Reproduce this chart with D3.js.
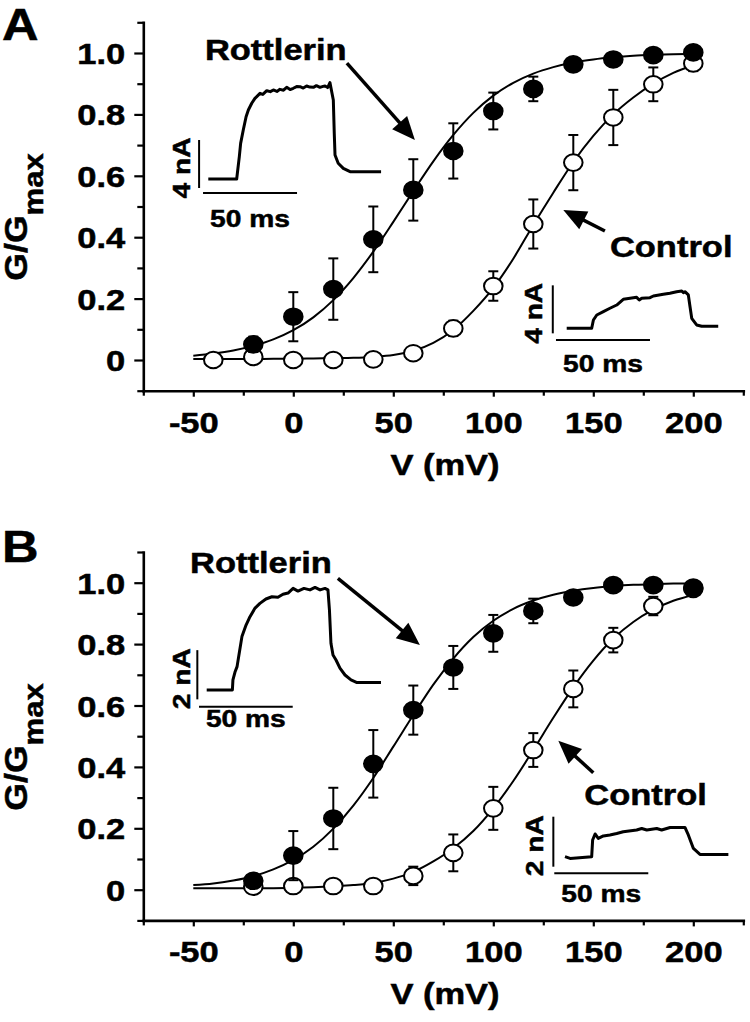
<!DOCTYPE html>
<html lang="en">
<head>
<meta charset="UTF-8">
<style>
    body { margin: 0; background: #fff; }
    svg text { font-family: "Liberation Sans", Arial, sans-serif; font-weight: bold; fill: #000; stroke: #000; stroke-width: 0.5px; }
</style>
</head>
<body>
<script src="https://d3js.org/d3.v7.min.js"></script>
<script>
// ---- data ----
var xMajor = [-50, 0, 50, 100, 150, 200]
var xTickLabels = ['-50', '0', '50', '100', '150', '200']
var xMinor = [-75, -25, 25, 75, 125, 175, 225]
var yMajor = [0, 0.2, 0.4, 0.6, 0.8, 1.0]
var yTickLabels = ['0', '0.2', '0.4', '0.6', '0.8', '1.0']
var yMinor = [-0.1, 0.1, 0.3, 0.5, 0.7, 0.9, 1.1]

// panel A
var aRottV = [-20, 0, 20, 40, 60, 80, 100, 120, 140, 160, 180, 200]
var aRottG = [0.051, 0.141, 0.231, 0.393, 0.554, 0.681, 0.811, 0.883, 0.963, 0.979, 0.993, 1.002]
var aRottErr = [0.025, 0.08, 0.1, 0.107, 0.1, 0.09, 0.06, 0.04, 0.01, 0.01, 0.01, 0.01]
var aCtrlV = [-40, -20, 0, 20, 40, 60, 80, 100, 120, 140, 160, 180, 200]
var aCtrlG = [0.0, 0.01, 0.0, 0.0, 0.002, 0.022, 0.103, 0.241, 0.443, 0.643, 0.79, 0.898, 0.966]
var aCtrlErr = [0.005, 0.01, 0.005, 0.005, 0.005, 0.01, 0.025, 0.048, 0.08, 0.09, 0.09, 0.055, 0.025]

// panel B
var bRottV = [-20, 0, 20, 40, 60, 80, 100, 120, 140, 160, 180, 200]
var bRottG = [0.029, 0.111, 0.232, 0.41, 0.585, 0.724, 0.835, 0.908, 0.952, 0.992, 0.992, 0.984]
var bRottErr = [0.02, 0.08, 0.1, 0.11, 0.08, 0.07, 0.06, 0.04, 0.01, 0.01, 0.01, 0.01]
var bCtrlV = [-20, 0, 20, 40, 60, 80, 100, 120, 140, 160, 180, 200]
var bCtrlG = [0.01, 0.012, 0.012, 0.012, 0.045, 0.12, 0.265, 0.455, 0.654, 0.813, 0.924, 0.98]
var bCtrlErr = [0.01, 0.005, 0.005, 0.01, 0.03, 0.06, 0.07, 0.055, 0.06, 0.04, 0.03, 0.01]

// fitted curves, every 10 mV
var fitV = [-50, -40, -30, -20, -10, 0, 10, 20, 30, 40, 50, 60, 70, 80, 90, 100, 110, 120, 130, 140, 150, 160, 170, 180, 190, 200]
var aRottFit = [0.014, 0.021, 0.031, 0.046, 0.067, 0.097, 0.139, 0.195, 0.267, 0.353, 0.45, 0.55, 0.647, 0.733, 0.805, 0.861, 0.903, 0.933, 0.954, 0.969, 0.979, 0.986, 0.991, 0.994, 0.996, 0.997]
var aCtrlFit = [0.003, 0.003, 0.003, 0.003, 0.004, 0.004, 0.005, 0.006, 0.007, 0.01, 0.016, 0.03, 0.056, 0.098, 0.16, 0.235, 0.33, 0.44, 0.545, 0.645, 0.73, 0.8, 0.855, 0.9, 0.935, 0.96]
var bRottFit = [0.015, 0.020, 0.030, 0.044, 0.066, 0.097, 0.140, 0.199, 0.274, 0.364, 0.466, 0.569, 0.668, 0.753, 0.823, 0.876, 0.915, 0.942, 0.961, 0.974, 0.983, 0.989, 0.993, 0.995, 0.997, 0.998]
var bCtrlFit = [0.005, 0.005, 0.005, 0.005, 0.005, 0.006, 0.008, 0.011, 0.015, 0.022, 0.036, 0.058, 0.092, 0.135, 0.191, 0.265, 0.354, 0.455, 0.56, 0.659, 0.746, 0.818, 0.872, 0.912, 0.941, 0.96]

// current traces in the insets (ms, nA from baseline)
var aRottTraceT = [0, 15.1, 16.5, 17.2, 18.6, 20.1, 21.3, 23.1, 24.8, 27.5, 29.0, 31.1, 33.0, 34.6, 36.5, 38.1, 40.0, 41.7, 43.5, 45.2, 47.0, 48.8, 50.5, 52.3, 54.0, 55.9, 57.5, 59.4, 61.0, 62.1, 63.5, 64.7, 66.5, 67.0, 67.4, 69.1, 71.8, 75.4, 91.9]
var aRottTraceI = [0, 0, 1.86, 2.97, 4.08, 5.19, 5.75, 6.31, 6.72, 7.14, 7.05, 7.36, 7.28, 7.42, 7.30, 7.47, 7.40, 7.64, 7.45, 7.56, 7.70, 7.69, 7.58, 7.75, 7.66, 7.64, 7.78, 7.64, 7.72, 7.75, 7.62, 8.03, 6.58, 3.81, 2.0, 1.31, 0.89, 0.61, 0.61]
var aCtrlTraceT = [0, 13.3, 14.2, 16.0, 19.5, 23.0, 26.6, 30.1, 33.7, 37.2, 38.6, 39.9, 44.3, 46.1, 51.4, 54.9, 58.5, 61.2, 62.1, 62.9, 64.7, 65.6, 66.5, 69.1, 71.8, 80.6]
var aCtrlTraceI = [0, 0, 0.69, 1.11, 1.39, 1.67, 1.94, 2.42, 2.5, 2.58, 2.36, 2.5, 2.55, 2.69, 2.83, 2.92, 3.05, 3.11, 2.97, 3.05, 2.78, 1.8, 0.83, 0.28, 0.17, 0.17]
var bRottTraceT = [0, 13.7, 14.0, 15.1, 16.2, 17.2, 18.8, 21.0, 23.1, 25.8, 28.4, 31.6, 34.8, 38.0, 40.7, 43.4, 46.1, 48.7, 51.9, 55.1, 57.8, 60.5, 63.1, 64.7, 65.5, 66.3, 67.4, 69.0, 71.1, 73.8, 77.0, 80.2, 93.0]
var bRottTraceI = [0, 0, 0.41, 0.73, 0.95, 1.42, 2.17, 2.64, 2.98, 3.33, 3.52, 3.70, 3.79, 3.77, 3.89, 3.94, 4.13, 4.02, 4.13, 4.07, 4.17, 4.07, 4.13, 4.07, 3.25, 1.90, 1.42, 1.22, 0.89, 0.61, 0.41, 0.30, 0.30]
var bCtrlTraceT = [0, 2.7, 14.2, 14.7, 16.0, 17.7, 20.4, 23.9, 27.5, 31.0, 38.1, 40.8, 43.5, 48.8, 51.4, 55.9, 63.8, 65.6, 68.3, 71.8, 86.9]
var bCtrlTraceI = [0, -0.07, 0, 0.67, 0.91, 0.73, 0.83, 0.87, 0.93, 1.0, 1.07, 1.13, 1.07, 1.13, 1.07, 1.17, 1.17, 0.87, 0.33, 0.09, 0.09]

var timeBarMs = 50
var aCurrentBarNa = 4
var bCurrentBarNa = 2

// ---- drawing ----
var svgWidth = 750, svgHeight = 1022
var sx = 1.15   // the figure's lettering is a bit wide

var svg = d3.select('body').append('svg')
    .attr('width', svgWidth)
    .attr('height', svgHeight)

var zip = (a, b) => a.map((v, i) => [v, b[i]])

function arrow(g, x1, y1, x2, y2) {
    var dx = x2 - x1, dy = y2 - y1, len = Math.hypot(dx, dy)
    var ux = dx / len, uy = dy / len
    var L = 23, W = 10
    var bx = x2 - L * ux, by = y2 - L * uy
    g.append('line')
        .attr('x1', x1).attr('y1', y1)
        .attr('x2', x2 - L * 0.7 * ux).attr('y2', y2 - L * 0.7 * uy)
        .attr('stroke', '#000').attr('stroke-width', 3.5)
    g.append('polygon')
        .attr('points', [[x2, y2], [bx - W * uy, by + W * ux], [bx + W * uy, by - W * ux]].join(' '))
        .attr('fill', '#000')
}

function label(g, txt, x, y, size, anchor) {
    g.append('text')
        .attr('transform', 'translate(' + x + ',' + y + ') scale(' + sx + ',1)')
        .attr('text-anchor', anchor || 'start')
        .style('font-size', size + 'px')
        .text(txt)
}

function drawInset(g, ins) {
    var tx = d3.scaleLinear().domain([0, timeBarMs]).range([ins.x0, ins.x0 + ins.msPx])
    var iy = d3.scaleLinear().domain([0, ins.na]).range([ins.y0, ins.y0 - ins.naPx])
    g.append('path')
        .datum(zip(ins.t, ins.i))
        .attr('d', d3.line().x(d => tx(d[0])).y(d => iy(d[1])))
        .attr('fill', 'none').attr('stroke', '#000').attr('stroke-width', 3)
        .attr('stroke-linejoin', 'round')
    // scale bars
    var vx = tx(ins.vBarT)
    g.append('line')
        .attr('x1', vx).attr('x2', vx)
        .attr('y1', iy(ins.vBarI)).attr('y2', iy(ins.vBarI + ins.na))
        .attr('stroke', '#000').attr('stroke-width', 2)
    var hy = iy(ins.hBarI)
    g.append('line')
        .attr('x1', tx(ins.hBarT)).attr('x2', tx(ins.hBarT + timeBarMs))
        .attr('y1', hy).attr('y2', hy)
        .attr('stroke', '#000').attr('stroke-width', 2)
    var vmid = (iy(ins.vBarI) + iy(ins.vBarI + ins.na)) / 2 + 4
    g.append('text')
        .attr('transform', 'translate(' + (vx + ins.vLabDx) + ',' + vmid + ') rotate(-90) scale(' + sx + ',1)')
        .attr('text-anchor', 'middle')
        .style('font-size', '24.5px')
        .text(ins.na + ' nA')
    label(g, timeBarMs + ' ms', (tx(ins.hBarT) + tx(ins.hBarT + timeBarMs)) / 2, hy + ins.hLabDy, 24.5, 'middle')
}

function drawPanel(p) {
    var g = svg.append('g')
    var x = d3.scaleLinear().domain([-75, 225]).range([143.3, 743.3])
    var y = d3.scaleLinear().domain([-0.1, 1.1]).range(p.yRange)
    var axisY = y(-0.1)

    // x axis
    var gx = g.append('g').attr('transform', 'translate(0,' + axisY + ')')
        .call(d3.axisBottom(x).tickValues(xMajor).tickSize(6).tickSizeOuter(0)
            .tickFormat((d, i) => xTickLabels[i]))
    g.append('g').attr('transform', 'translate(0,' + axisY + ')')
        .call(d3.axisBottom(x).tickValues(xMinor).tickSize(5).tickSizeOuter(0).tickFormat(''))
        .select('.domain').remove()
    gx.selectAll('text')
        .attr('y', 0).attr('dy', null)
        .attr('transform', 'translate(0,42) scale(' + sx + ',1)')
    // y axis
    var gy = g.append('g').attr('transform', 'translate(143.3,0)')
        .call(d3.axisLeft(y).tickValues(yMajor).tickSize(9).tickSizeOuter(0)
            .tickFormat((d, i) => yTickLabels[i]))
    g.append('g').attr('transform', 'translate(143.3,0)')
        .call(d3.axisLeft(y).tickValues(yMinor).tickSize(6).tickSizeOuter(0).tickFormat(''))
        .select('.domain').remove()
    gy.selectAll('text')
        .attr('x', 0).attr('dy', null)
        .attr('transform', 'translate(-18,10.5) scale(' + sx + ',1)')
    g.selectAll('.domain').attr('stroke-width', 2.6).attr('stroke-linecap', 'square')
    g.selectAll('.tick line').attr('stroke-width', 2.2)
    g.selectAll('.tick text').style('font-size', '30px')
        .attr('font-family', null)
    g.selectAll('g').attr('font-family', null).attr('font-size', null)

    // axis titles
    label(g, 'V (mV)', 445, axisY + 84, 30, 'middle')
    var yt = g.append('text')
        .attr('transform', 'translate(27,' + p.yTitleY + ') rotate(-90) scale(' + sx + ',1)')
        .attr('text-anchor', 'middle')
        .style('font-size', '31px')
    yt.append('tspan').text('G/G')
    yt.append('tspan').attr('dy', 16).style('font-size', '27px').text('max')

    // panel letter
    label(g, p.letter, 2, p.letterY, 44)

    // fitted curves
    var line = d3.line().x(d => x(d[0])).y(d => y(d[1])).curve(d3.curveMonotoneX)
    ;[p.rottFit, p.ctrlFit].forEach(f => {
        g.append('path').datum(zip(fitV, f))
            .attr('d', line)
            .attr('fill', 'none').attr('stroke', '#000').attr('stroke-width', 2)
    })

    // error bars + markers: control (open) first, rottlerin (filled) on top
    var series = [
        { v: p.ctrlV, gv: p.ctrlG, e: p.ctrlErr, fill: '#fff' },
        { v: p.rottV, gv: p.rottG, e: p.rottErr, fill: '#000' }
    ]
    series.forEach(s => {
        var pts = s.v.map((v, i) => ({ v: v, g: s.gv[i], e: s.e[i] }))
        var eb = g.append('g').attr('stroke', '#000').attr('stroke-width', 2)
        pts.forEach(d => {
            var cx = x(d.v), y1 = y(d.g - d.e), y2 = y(d.g + d.e)
            eb.append('line').attr('x1', cx).attr('x2', cx).attr('y1', y1).attr('y2', y2)
            eb.append('line').attr('x1', cx - 5).attr('x2', cx + 5).attr('y1', y1).attr('y2', y1)
            eb.append('line').attr('x1', cx - 5).attr('x2', cx + 5).attr('y1', y2).attr('y2', y2)
        })
        g.append('g').selectAll('ellipse').data(pts).enter().append('ellipse')
            .attr('cx', d => x(d.v)).attr('cy', d => y(d.g))
            .attr('rx', 9.3).attr('ry', 8.3)
            .attr('fill', s.fill).attr('stroke', '#000').attr('stroke-width', 2)
    })

    // annotations
    label(g, 'Rottlerin', x(p.rottLab[0]), y(p.rottLab[1]), 30)
    label(g, 'Control', x(p.ctrlLab[0]), y(p.ctrlLab[1]), 30)
    arrow(g, x(p.rottArrow[0]), y(p.rottArrow[1]), x(p.rottArrow[2]), y(p.rottArrow[3]))
    arrow(g, x(p.ctrlArrow[0]), y(p.ctrlArrow[1]), x(p.ctrlArrow[2]), y(p.ctrlArrow[3]))

    p.insets.forEach(ins => drawInset(g, ins))
}

drawPanel({
    letter: 'A', letterY: 40, yRange: [390.7, 22.3], yTitleY: 217,
    rottV: aRottV, rottG: aRottG, rottErr: aRottErr,
    ctrlV: aCtrlV, ctrlG: aCtrlG, ctrlErr: aCtrlErr,
    rottFit: aRottFit, ctrlFit: aCtrlFit,
    rottLab: [-44.2, 0.977], ctrlLab: [158.3, 0.3355],
    rottArrow: [26.8, 0.967, 60.8, 0.717], ctrlArrow: [155.8, 0.42, 135, 0.489],
    insets: [
        { t: aRottTraceT, i: aRottTraceI, na: aCurrentBarNa, x0: 208.3, y0: 179, msPx: 94, naPx: 48,
          vBarT: -4.9, vBarI: -0.75, hBarT: -2.8, hBarI: -1.17, vLabDx: -9, hLabDy: 34 },
        { t: aCtrlTraceT, i: aCtrlTraceI, na: aCurrentBarNa, x0: 566.7, y0: 328.3, msPx: 94, naPx: 48,
          vBarT: -7.4, vBarI: -0.42, hBarT: -5.7, hBarI: -0.97, vLabDx: -11, hLabDy: 32 }
    ]
})

drawPanel({
    letter: 'B', letterY: 562, yRange: [920.4, 552], yTitleY: 747,
    rottV: bRottV, rottG: bRottG, rottErr: bRottErr,
    ctrlV: bCtrlV, ctrlG: bCtrlG, ctrlErr: bCtrlErr,
    rottFit: bRottFit, ctrlFit: bCtrlFit,
    rottLab: [-51.6, 1.031], ctrlLab: [145.5, 0.276],
    rottArrow: [22.3, 1.014, 63.3, 0.797], ctrlArrow: [150, 0.381, 132.5, 0.485],
    insets: [
        { t: bRottTraceT, i: bRottTraceI, na: bCurrentBarNa, x0: 206.7, y0: 690, msPx: 93.7, naPx: 49.2,
          vBarT: -5.0, vBarI: -0.38, hBarT: -4.1, hBarI: -0.68, vLabDx: -7, hLabDy: 20 },
        { t: bCtrlTraceT, i: bCtrlTraceI, na: bCurrentBarNa, x0: 565, y0: 856.7, msPx: 94, naPx: 50,
          vBarT: -6.2, vBarI: -0.4, hBarT: -5.7, hBarI: -0.66, vLabDx: -10, hLabDy: 28.4 }
    ]
})
</script>
</body>
</html>
